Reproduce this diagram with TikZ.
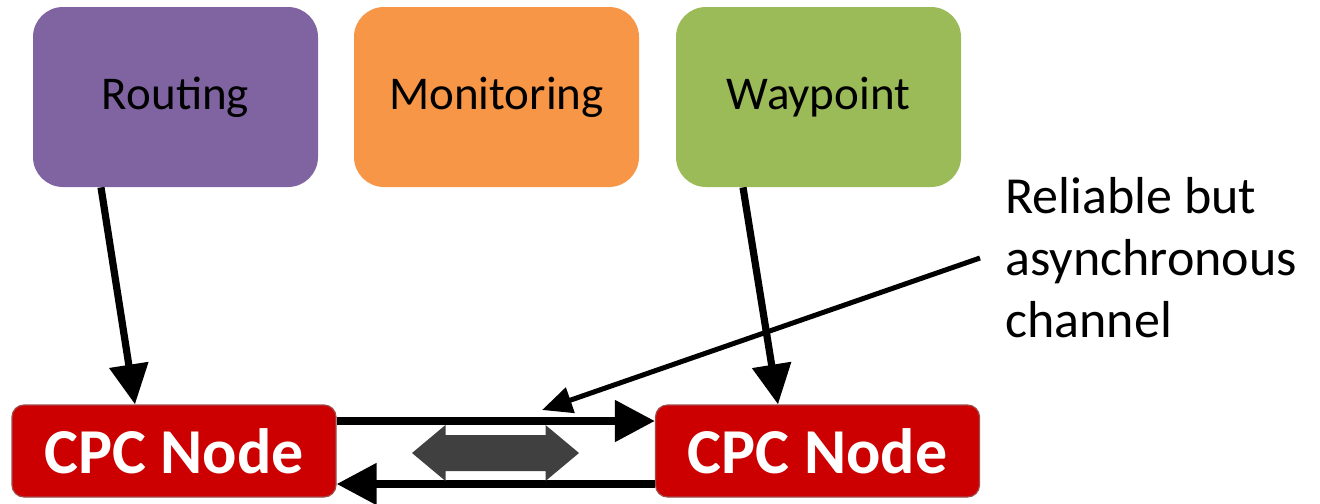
\documentclass[tikz,border=0pt]{standalone}
\usepackage{fontspec}
\setmainfont{Carlito}
\usetikzlibrary{arrows.meta,calc}

\definecolor{routingc}{HTML}{8064A2}
\definecolor{monitorc}{HTML}{F79646}
\definecolor{waypointc}{HTML}{9BBB59}
\definecolor{cpcred}{HTML}{CC0000}
\definecolor{cpcedge}{HTML}{A04A4A}
\definecolor{chanc}{HTML}{404040}

\tikzset{
  appbox/.style={rounded corners=15pt, minimum width=142.5pt, minimum height=90pt,
    inner sep=0pt, font=\fontsize{23.5}{28}\selectfont, text=black},
  cpcbox/.style={rounded corners=6pt, fill=cpcred, draw=cpcedge, line width=0.6pt,
    minimum width=162pt, minimum height=46pt, inner sep=0pt,
    font=\fontsize{32}{38}\selectfont\bfseries, text=white},
  bigarrow/.style={line width=3.6pt, -{Triangle[length=20pt,width=19pt]}},
  linkarrow/.style={line width=4pt, -{Triangle[length=20pt,width=20pt]}},
  notearrow/.style={line width=2.5pt, -{Triangle[length=15pt,width=13pt]}},
}

\begin{document}
\begin{tikzpicture}[x=0.5pt,y=-0.5pt]
  \useasboundingbox (0,0) rectangle (1320,503);

  % application boxes
  \node[appbox, fill=routingc]  (routing)  at (175.5,97) {Routing};
  \node[appbox, fill=monitorc]  (monitor)  at (496.5,97) {Monitoring};
  \node[appbox, fill=waypointc] (waypoint) at (818.5,97) {Waypoint};

  % controller nodes
  \node[cpcbox] (cpc1) at (174,451) {CPC Node};
  \node[cpcbox] (cpc2) at (817.5,451) {CPC Node};

  % channel label
  \node[anchor=west, inner sep=0pt, align=left, font=\fontsize{26}{31}\selectfont]
    (label) at (1005,258) {Reliable but\\asynchronous\\channel};
  \coordinate (chanpt) at (542,410);

  % app -> controller
  \draw[bigarrow] ($(routing.south)+(-74.5,0)$) -- ($(cpc1.north)+(-39,0)$);
  \draw[bigarrow] ($(waypoint.south)+(-75.5,0)$) -- ($(cpc2.north)+(-39.5,0)$);

  % links between controllers
  \draw[linkarrow] ($(cpc1.east)+(0,-30)$) -- ($(cpc2.west)+(0,-30)$);
  \draw[linkarrow] ($(cpc2.west)+(0,33)$) -- ($(cpc1.east)+(0,33)$);

  % channel double arrow
  \fill[chanc] (412,453) -- (445.5,425) -- (445.5,435) -- (545.5,435) -- (545.5,425)
    -- (579,453) -- (545.5,481) -- (545.5,471) -- (445.5,471) -- (445.5,481) -- cycle;

  % label pointer
  \draw[notearrow] ($(label.west)+(-25,0)$) -- (chanpt);
\end{tikzpicture}
\end{document}
